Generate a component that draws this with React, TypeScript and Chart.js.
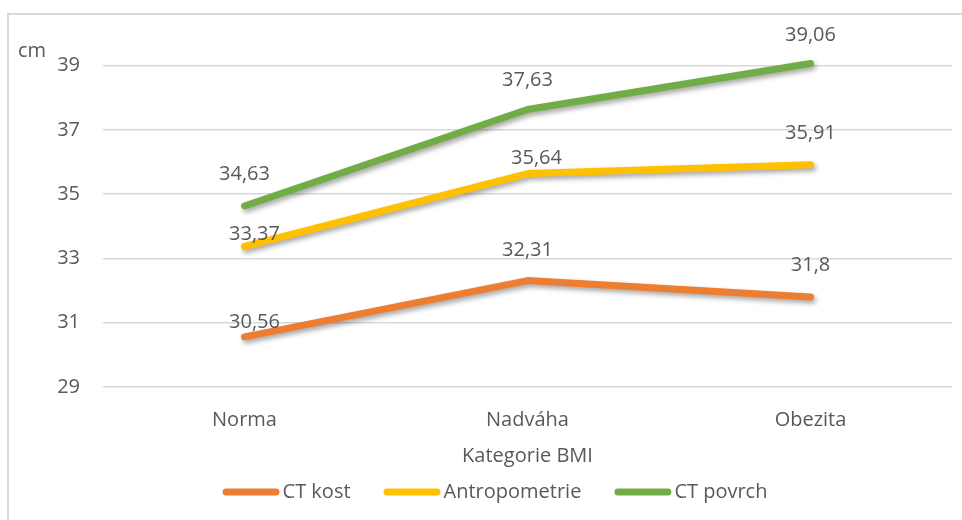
import React, { useEffect, useRef } from "react";
import { Chart, registerables } from "chart.js";

Chart.register(...registerables);

const categories = ["Norma", "Nadváha", "Obezita"];
const seriesNames = ["CT kost", "Antropometrie", "CT povrch"];
const ctKost = [30.56, 32.31, 31.8];
const antropometrie = [33.37, 35.64, 35.91];
const ctPovrch = [34.63, 37.63, 39.06];
const seriesColors = ["#ED7D31", "#FFC000", "#70AD47"];
const yMin = 29;
const yMax = 39;
const yStep = 2;
const yAxisTitle = "cm";
const xAxisTitle = "Kategorie BMI";

// label placement tweaks (dx, dy) relative to each point, per series
const labelOffsets = [
  [[10, -15], [0, -30], [0, -32]],
  [[10, -12], [9, -15], [0, -32]],
  [[0, -32], [0, -29], [0, -28]],
];

const FONT = "'Open Sans', sans-serif";
const TEXT = "#595959";

const fmt = (v: number) => String(v).replace(".", ",");

export default function App() {
  const ref = useRef<HTMLCanvasElement | null>(null);
  useEffect(() => {
    if (!ref.current) return;
    const shadowPlugin = {
      id: "shadow",
      beforeDatasetDraw(chart: any) {
        const ctx = chart.ctx;
        ctx.save();
        ctx.shadowColor = "rgba(0,0,0,0.35)";
        ctx.shadowBlur = 5;
        ctx.shadowOffsetX = 2;
        ctx.shadowOffsetY = 3;
      },
      afterDatasetDraw(chart: any) {
        chart.ctx.restore();
      },
    };
    const extras = {
      id: "extras",
      afterDraw(chart: any) {
        const ctx = chart.ctx;
        const area = chart.chartArea;
        ctx.save();
        ctx.fillStyle = TEXT;
        ctx.font = `20px ${FONT}`;
        // data labels
        ctx.textAlign = "center";
        ctx.textBaseline = "middle";
        chart.data.datasets.forEach((ds: any, di: number) => {
          const meta = chart.getDatasetMeta(di);
          meta.data.forEach((pt: any, i: number) => {
            const [dx, dy] = labelOffsets[di][i];
            ctx.fillText(fmt(ds.data[i]), pt.x + dx, pt.y + dy);
          });
        });
        // y axis title
        ctx.textAlign = "left";
        ctx.fillText(yAxisTitle, 9, 36);
        // x axis title
        ctx.textAlign = "center";
        ctx.fillText(xAxisTitle, (area.left + area.right) / 2, area.bottom + 69);
        // legend
        const sample = 57;
        const gap = 3;
        const itemGap = 33;
        const widths = chart.data.datasets.map((ds: any) => ctx.measureText(ds.label).width);
        const total = widths.reduce((a: number, w: number) => a + sample + gap + w, 0) + itemGap * (widths.length - 1);
        let x = 486 - total / 2;
        const ly = area.bottom + 105;
        ctx.textAlign = "left";
        chart.data.datasets.forEach((ds: any, di: number) => {
          ctx.strokeStyle = ds.borderColor;
          ctx.lineWidth = 7;
          ctx.lineCap = "round";
          ctx.beginPath();
          ctx.moveTo(x + 3.5, ly);
          ctx.lineTo(x + sample - 3.5, ly);
          ctx.stroke();
          ctx.fillText(ds.label, x + sample + gap, ly);
          x += sample + gap + widths[di] + itemGap;
        });
        ctx.restore();
      },
    };
    const seriesData = [ctKost, antropometrie, ctPovrch];
    const chart = new Chart(ref.current, {
      type: "line",
      data: {
        labels: categories,
        datasets: seriesNames.map((name, i) => ({
          label: name,
          data: seriesData[i],
          borderColor: seriesColors[i],
          backgroundColor: seriesColors[i],
          borderWidth: 7,
          borderCapStyle: "round",
          borderJoinStyle: "round",
          pointRadius: 0,
          pointHoverRadius: 0,
          tension: 0,
          clip: false,
        })) as any,
      },
      options: {
        animation: false,
        responsive: false,
        layout: { padding: { top: 50.5, right: 10, bottom: 0, left: 0 } },
        plugins: {
          legend: { display: false },
          tooltip: { enabled: false },
        },
        scales: {
          x: {
            offset: true,
            grid: { display: false, drawTicks: false },
            border: { display: false },
            ticks: { color: TEXT, font: { family: FONT, size: 20 }, padding: 21 },
            afterFit: (s: any) => {
              s.height = 133;
            },
          },
          y: {
            min: yMin,
            max: yMax,
            grid: { color: "#D9D9D9", lineWidth: 1.5, drawTicks: false },
            border: { display: false },
            ticks: {
              stepSize: yStep,
              color: TEXT,
              font: { family: FONT, size: 20 },
              padding: 23,
            },
            afterFit: (s: any) => {
              s.width = 94;
            },
          },
        },
      },
      plugins: [shadowPlugin, extras],
    });
    return () => chart.destroy();
  }, []);
  return (
    <div
      style={{
        position: "absolute",
        left: 7,
        top: 13,
        width: 955,
        height: 507,
        borderTop: "2px solid #D9D9D9",
        borderLeft: "2px solid #D9D9D9",
        boxSizing: "border-box",
        background: "#fff",
      }}
    >
      <canvas ref={ref} width={953} height={505} style={{ display: "block" }} />
    </div>
  );
}
